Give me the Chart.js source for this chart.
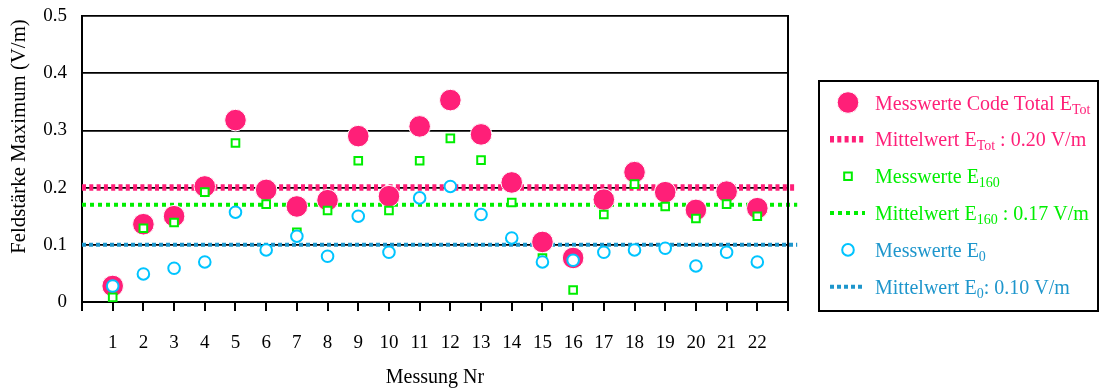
<!DOCTYPE html>
<html lang="de">
<head>
<meta charset="utf-8">
<title>Feldstärke Maximum</title>
<script src="https://cdn.jsdelivr.net/npm/chart.js@4.4.1/dist/chart.umd.min.js"></script>
<style>
  html, body { margin: 0; padding: 0; background: #ffffff; }
  #wrap { width: 1101px; height: 392px; position: relative; }
</style>
</head>
<body>
<div id="wrap"><canvas id="chart" width="1101" height="392"></canvas></div>
<script>
// Messung Nr (x categories)
const measurementNo = [1, 2, 3, 4, 5, 6, 7, 8, 9, 10, 11, 12, 13, 14, 15, 16, 17, 18, 19, 20, 21, 22];

// Measured maximum field strength per measurement (V/m)
const eTot = [0.028, 0.136, 0.150, 0.202, 0.318, 0.196, 0.167, 0.178, 0.290, 0.185, 0.307,
              0.353, 0.293, 0.209, 0.105, 0.077, 0.179, 0.227, 0.192, 0.161, 0.193, 0.164];
const e160 = [0.008, 0.129, 0.139, 0.192, 0.278, 0.171, 0.122, 0.160, 0.247, 0.160, 0.247,
              0.286, 0.248, 0.174, 0.077, 0.021, 0.153, 0.206, 0.167, 0.146, 0.171, 0.150];
const e0   = [0.028, 0.049, 0.059, 0.070, 0.157, 0.091, 0.115, 0.080, 0.150, 0.087, 0.182,
              0.202, 0.153, 0.112, 0.070, 0.073, 0.087, 0.091, 0.094, 0.063, 0.087, 0.070];

// Mean values (V/m)
const meanTot = 0.20;
const mean160 = 0.17;
const mean0   = 0.10;

// Axis ticks
const yTicks = [0, 0.1, 0.2, 0.3, 0.4, 0.5];
const xRange = [0, 23];          // axis extent around the 22 measurements
const meanLineX = [0, 23.3];     // mean lines run slightly past the frame

const yTitle = 'Feldstärke Maximum (V/m)';
const xTitle = 'Messung Nr';

const SERIF = "'Liberation Serif', 'Times New Roman', serif";
const PINK = '#FF1F78';
const GREEN = '#00EE00';
const CYAN = '#00C4FF';
const BLUE = '#1E96CC';

const pts = vals => vals.map((v, i) => ({ x: measurementNo[i], y: v }));
const hline = v => meanLineX.map(x => ({ x, y: v }));

// Legend entries: main text, subscript, suffix
const legendText = [
  ['Messwerte Code Total E', 'Tot', ''],
  ['Mittelwert E', 'Tot', ' : ' + meanTot.toFixed(2) + ' V/m'],
  ['Messwerte E', '160', ''],
  ['Mittelwert E', '160', ' : ' + mean160.toFixed(2) + ' V/m'],
  ['Messwerte E', '0', ''],
  ['Mittelwert E', '0', ': ' + mean0.toFixed(2) + ' V/m']
];
const legendColors = [PINK, PINK, GREEN, GREEN, BLUE, BLUE];

const datasets = [
  { type: 'scatter', label: 'Messwerte Code Total E_Tot', data: pts(eTot), order: 2,
    pointStyle: 'circle', pointRadius: 10.8, pointHoverRadius: 10.8,
    backgroundColor: PINK, borderColor: '#ffffff', pointBorderWidth: 1 },
  { type: 'line', label: 'Mittelwert E_Tot', data: hline(meanTot), order: 5,
    borderColor: PINK, borderWidth: 6.5, borderDash: [4, 3.3], pointRadius: 0, clip: false },
  { type: 'scatter', label: 'Messwerte E_160', data: pts(e160), order: 1,
    pointStyle: 'rect', pointRadius: 5.4, pointHoverRadius: 5.4,
    backgroundColor: '#ffffff', borderColor: GREEN, pointBorderWidth: 2 },
  { type: 'line', label: 'Mittelwert E_160', data: hline(mean160), order: 4,
    borderColor: GREEN, borderWidth: 4, borderDash: [4, 4], pointRadius: 0, clip: false },
  { type: 'scatter', label: 'Messwerte E_0', data: pts(e0), order: 0,
    pointStyle: 'circle', pointRadius: 5.8, pointHoverRadius: 5.8,
    backgroundColor: '#ffffff', borderColor: CYAN, pointBorderWidth: 2 },
  { type: 'line', label: 'Mittelwert E_0', data: hline(mean0), order: 3,
    borderColor: BLUE, borderWidth: 4, borderDash: [4, 3], pointRadius: 0, clip: false }
];

// Right-hand frame line of the plot area and the rotated y-axis title
const frame = {
  id: 'frame',
  afterDatasetsDraw(chart) {
    const { ctx, chartArea } = chart;
    ctx.save();
    ctx.strokeStyle = '#000';
    ctx.lineWidth = 2;
    ctx.beginPath();
    ctx.moveTo(chartArea.right, chartArea.top - 1);
    ctx.lineTo(chartArea.right, chartArea.bottom);
    ctx.stroke();

    ctx.translate(20, 136.5);
    ctx.rotate(-Math.PI / 2);
    ctx.fillStyle = '#000';
    ctx.font = '20.8px ' + SERIF;
    ctx.textAlign = 'center';
    ctx.textBaseline = 'middle';
    ctx.fillText(yTitle, 0, 0);
    ctx.restore();
  }
};

// Boxed legend with subscripted labels
const boxLegend = {
  id: 'boxLegend',
  afterDraw(chart) {
    const ctx = chart.ctx;
    const box = { x: 819, y: 81, w: 279, h: 230 };
    const symX = 848, lineX0 = 830, lineX1 = 865, textX = 875;
    const rowY0 = 102.5, rowStep = 36.85;
    ctx.save();
    ctx.strokeStyle = '#000';
    ctx.lineWidth = 2;
    ctx.strokeRect(box.x, box.y, box.w, box.h);

    chart.data.datasets.forEach((ds, i) => {
      const y = rowY0 + i * rowStep;
      ctx.save();
      if (ds.type === 'line') {
        ctx.strokeStyle = ds.borderColor;
        ctx.lineWidth = ds.borderWidth;
        ctx.setLineDash(ds.borderDash);
        ctx.beginPath();
        ctx.moveTo(lineX0, y);
        ctx.lineTo(lineX1, y);
        ctx.stroke();
      } else {
        ctx.fillStyle = ds.backgroundColor;
        ctx.strokeStyle = ds.borderColor;
        ctx.lineWidth = ds.pointBorderWidth;
        Chart.helpers.drawPoint(ctx, {
          pointStyle: ds.pointStyle, radius: ds.pointRadius,
          borderWidth: ds.pointBorderWidth, rotation: 0
        }, symX, y);
      }
      ctx.restore();

      const [main, sub, suffix] = legendText[i];
      const base = y + 7;
      ctx.fillStyle = legendColors[i];
      ctx.textBaseline = 'alphabetic';
      ctx.textAlign = 'left';
      ctx.font = '20px ' + SERIF;
      ctx.fillText(main, textX, base);
      let x = textX + ctx.measureText(main).width;
      ctx.font = '14px ' + SERIF;
      ctx.fillText(sub, x, base + 4);
      x += ctx.measureText(sub).width;
      ctx.font = '20px ' + SERIF;
      ctx.fillText(suffix, x, base);
    });
    ctx.restore();
  }
};

new Chart(document.getElementById('chart'), {
  type: 'scatter',
  data: { datasets },
  options: {
    responsive: false,
    devicePixelRatio: 1,
    animation: false,
    events: [],
    layout: { padding: { top: 16, right: 313, left: 0, bottom: 0 } },
    plugins: { legend: { display: false }, tooltip: { enabled: false } },
    scales: {
      x: {
        type: 'linear',
        min: xRange[0], max: xRange[1],
        afterFit(scale) {
          scale.height = 90;
          scale.paddingLeft = 0;
          scale.paddingRight = 0;
        },
        afterBuildTicks(scale) {
          const t = [];
          for (let v = xRange[0]; v <= xRange[1]; v++) t.push({ value: v });
          scale.ticks = t;
        },
        ticks: {
          autoSkip: false, maxRotation: 0, padding: 21, color: '#000',
          font: { family: SERIF, size: 19 },
          callback: v => (measurementNo.includes(v) ? String(v) : '')
        },
        grid: { drawOnChartArea: false, drawTicks: true, tickLength: 9, color: '#000', lineWidth: 2 },
        border: { display: true, color: '#000', width: 2 },
        title: {
          display: true, text: xTitle, color: '#000',
          font: { family: SERIF, size: 20 }, padding: { top: 0, bottom: 2 }
        }
      },
      y: {
        min: yTicks[0], max: yTicks[yTicks.length - 1],
        afterFit(scale) {
          scale.width = 82;
          scale.paddingTop = 0;
          scale.paddingBottom = 0;
        },
        afterBuildTicks(scale) { scale.ticks = yTicks.map(v => ({ value: v })); },
        ticks: {
          padding: 15, color: '#000',
          font: { family: SERIF, size: 19 },
          callback: v => (v === 0 ? '0' : v.toFixed(1))
        },
        grid: { color: '#000', lineWidth: 1.8, drawTicks: false },
        border: { display: true, color: '#000', width: 2 },
        title: { display: false }
      }
    }
  },
  plugins: [frame, boxLegend]
});
</script>
</body>
</html>
